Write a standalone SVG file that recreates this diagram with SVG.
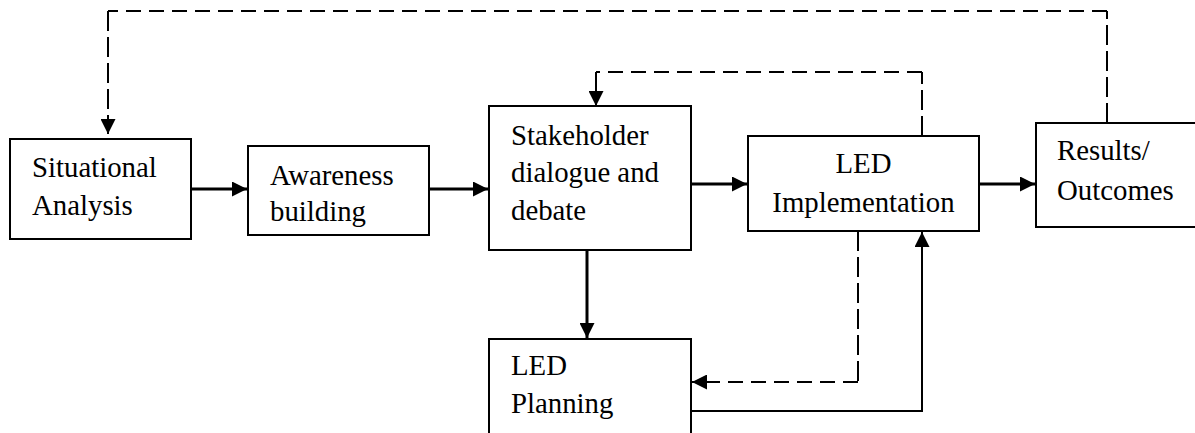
<svg xmlns="http://www.w3.org/2000/svg" width="1195" height="433" viewBox="0 0 1195 433">
  <style>
    .box { fill: #fff; stroke: #000; stroke-width: 2; }
    .lbl { font-size: 28.8px; fill: #000; }
    .solid { fill: none; stroke: #000; stroke-width: 3; }
    .thin { fill: none; stroke: #000; stroke-width: 2; }
    .dash { fill: none; stroke: #000; stroke-width: 2; stroke-dasharray: 15 8; }
    .dashv { fill: none; stroke: #000; stroke-width: 2; stroke-dasharray: 20 6; }
  </style>
  <defs>
    <marker id="arrow" viewBox="0 0 15 15" refX="15" refY="7.5" markerWidth="15" markerHeight="15" markerUnits="userSpaceOnUse" orient="auto">
      <path d="M0,0 L15,7.5 L0,15 Z" fill="#000"/>
    </marker>
  </defs>
  <rect width="1195" height="433" fill="#fff"/>

  <g font-family="'Liberation Serif', Tinos, 'Times New Roman', 'DejaVu Serif', serif">
  <g id="situational">
    <rect class="box" x="10" y="139" width="181" height="100"/>
    <text class="lbl" x="32" y="177">Situational</text>
    <text class="lbl" x="32" y="215">Analysis</text>
  </g>

  <g id="awareness">
    <rect class="box" x="248" y="146" width="181" height="89"/>
    <text class="lbl" x="270" y="185">Awareness</text>
    <text class="lbl" x="270" y="221">building</text>
  </g>

  <g id="stakeholder">
    <rect class="box" x="489" y="106" width="202" height="144"/>
    <text class="lbl" x="511" y="145">Stakeholder</text>
    <text class="lbl" x="511" y="182">dialogue and</text>
    <text class="lbl" x="511" y="220">debate</text>
  </g>

  <g id="implementation">
    <rect class="box" x="748" y="136" width="231" height="95"/>
    <text class="lbl" x="863.5" y="173" text-anchor="middle">LED</text>
    <text class="lbl" x="863.5" y="212" text-anchor="middle">Implementation</text>
  </g>

  <g id="results">
    <rect class="box" x="1036" y="123" width="170" height="104"/>
    <text class="lbl" x="1057" y="160">Results/</text>
    <text class="lbl" x="1057" y="200">Outcomes</text>
  </g>

  <g id="planning">
    <rect class="box" x="489" y="339" width="202" height="110"/>
    <text class="lbl" x="511" y="375">LED</text>
    <text class="lbl" x="511" y="413">Planning</text>
  </g>
  </g>

  <g id="connectors">
    <!-- main flow -->
    <line class="solid" x1="191" y1="189" x2="247" y2="189" marker-end="url(#arrow)"/>
    <line class="solid" x1="429" y1="189" x2="488" y2="189" marker-end="url(#arrow)"/>
    <line class="solid" x1="691" y1="184" x2="747" y2="184" marker-end="url(#arrow)"/>
    <line class="solid" x1="979" y1="184" x2="1035" y2="184" marker-end="url(#arrow)"/>
    <line class="solid" x1="587" y1="250" x2="587" y2="338" marker-end="url(#arrow)"/>
    <!-- planning back into implementation -->
    <path class="thin" d="M691,411 H922 V232" marker-end="url(#arrow)"/>

    <!-- feedback loops -->
    <path class="dashv" d="M1107,123 V11"/>
    <path class="dash" d="M1107,11 H108"/>
    <path class="dashv" d="M108,11 V134" marker-end="url(#arrow)"/>

    <path class="dashv" d="M922,136 V72"/>
    <path class="dash" d="M922,72 H596"/>
    <path class="dashv" d="M596,72 V106" marker-end="url(#arrow)"/>

    <path class="dashv" d="M858,231 V382"/>
    <path class="dash" d="M858,382 H692" marker-end="url(#arrow)"/>
  </g>
</svg>
